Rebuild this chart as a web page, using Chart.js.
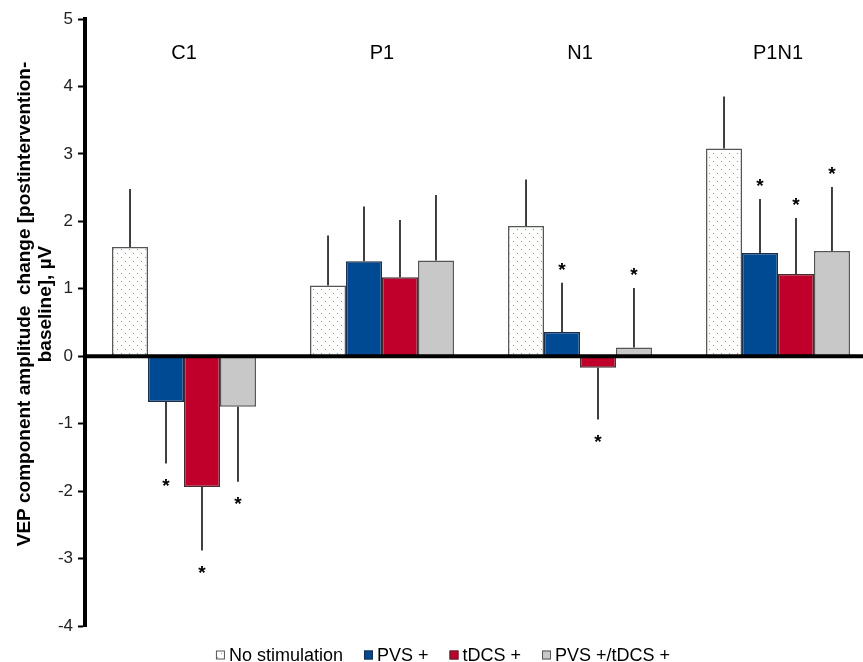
<!DOCTYPE html>
<html>
<head>
<meta charset="utf-8">
<script src="https://cdn.jsdelivr.net/npm/chart.js@4.4.1/dist/chart.umd.min.js"></script>
<style>
    html, body { margin: 0; padding: 0; background: #fff; overflow: hidden; }
    #wrap { width: 880px; height: 662px; position: relative; }
</style>
</head>
<body>
<div id="wrap"><canvas id="vepChart"></canvas></div>
<script>
const componentes = ['C1', 'P1', 'N1', 'P1N1'];
const nombresSeries = ['No stimulation', 'PVS +', 'tDCS +', 'PVS +/tDCS +'];

// amplitudes medias
const noStim = [1.62, 1.05, 1.93, 3.08];
const pvs = [-0.68, 1.41, 0.36, 1.53];
const tdcs = [-1.94, 1.17, -0.17, 1.22];
const pvsTdcs = [-0.75, 1.42, 0.13, 1.56];

// longitud de la barra de error (hacia afuera del cero)
const errNoStim = [0.86, 0.74, 0.69, 0.77];
const errPvs = [0.91, 0.81, 0.73, 0.80];
const errTdcs = [0.94, 0.85, 0.77, 0.83];
const errPvsTdcs = [1.11, 0.97, 0.88, 0.95];

// asterisco de significancia
const sigNoStim = [false, false, false, false];
const sigPvs = [true, false, true, true];
const sigTdcs = [true, false, true, true];
const sigPvsTdcs = [true, false, true, true];

const yTicks = [-4, -3, -2, -1, 0, 1, 2, 3, 4, 5];
const tituloY = ['VEP component amplitude  change [postintervention-', 'baseline], µV'];

const fuente = 'Arial, "Liberation Sans", sans-serif';

const crearPatron = () => {
    const c = document.createElement('canvas');
    c.width = 8;
    c.height = 8;
    const g = c.getContext('2d');
    g.fillStyle = '#ffffff';
    g.fillRect(0, 0, 8, 8);
    g.fillStyle = '#6f9bd3';
    g.fillRect(1, 1, 1, 1);
    g.fillRect(5, 5, 1, 1);
    return g.createPattern(c, 'repeat');
};

const errores = [errNoStim, errPvs, errTdcs, errPvsTdcs];
const significancia = [sigNoStim, sigPvs, sigTdcs, sigPvsTdcs];

const erroresPlugin = {
    id: 'errores',
    afterDatasetsDraw(chart) {
        const ctx = chart.ctx;
        const y = chart.scales.y;
        ctx.save();
        chart.data.datasets.forEach((ds, i) => {
            const meta = chart.getDatasetMeta(i);
            meta.data.forEach((bar, j) => {
                const v = ds.data[j];
                const fin = v >= 0 ? v + errores[i][j] : v - errores[i][j];
                const y0 = y.getPixelForValue(v);
                const y1 = y.getPixelForValue(fin);
                ctx.strokeStyle = '#000';
                ctx.lineWidth = 1.5;
                ctx.beginPath();
                ctx.moveTo(bar.x, y0);
                ctx.lineTo(bar.x, y1);
                ctx.stroke();
                if (significancia[i][j]) {
                    ctx.fillStyle = '#000';
                    ctx.font = 'bold 19px ' + fuente;
                    ctx.textAlign = 'center';
                    ctx.textBaseline = 'middle';
                    const ya = v >= 0 ? y1 - 12 : y1 + 23;
                    ctx.fillText('*', bar.x, ya);
                }
            });
        });
        // etiquetas de componente arriba
        const x = chart.scales.x;
        ctx.fillStyle = '#000';
        ctx.font = '20px ' + fuente;
        ctx.textAlign = 'center';
        ctx.textBaseline = 'middle';
        componentes.forEach((c, k) => {
            ctx.fillText(c, x.getPixelForValue(k), 53);
        });
        // linea del cero
        const yz = y.getPixelForValue(0);
        ctx.strokeStyle = '#000';
        ctx.lineWidth = 4;
        ctx.beginPath();
        ctx.moveTo(chart.chartArea.left - 2, yz);
        ctx.lineTo(chart.chartArea.right, yz);
        ctx.stroke();

        // titulo del eje y
        ctx.save();
        ctx.translate(25, 304);
        ctx.rotate(-Math.PI / 2);
        ctx.font = 'bold 19px ' + fuente;
        ctx.fillText(tituloY[0], 0, 0);
        ctx.fillText(tituloY[1], 0, 21);
        ctx.restore();

        // leyenda
        ctx.font = '18px ' + fuente;
        ctx.textAlign = 'left';
        const caja = 9, hueco = 4, sep = 21;
        let total = 0;
        nombresSeries.forEach((n, i) => {
            total += caja + hueco + ctx.measureText(n).width + (i < nombresSeries.length - 1 ? sep : 0);
        });
        let lx = 443 - total / 2;
        const ly = 655;
        chart.data.datasets.forEach((ds, i) => {
            ctx.fillStyle = ds.backgroundColor;
            ctx.fillRect(lx, ly - caja / 2, caja, caja);
            ctx.strokeStyle = ds.borderColor;
            ctx.lineWidth = 1;
            ctx.strokeRect(lx + 0.5, ly - caja / 2 + 0.5, caja - 1, caja - 1);
            lx += caja + hueco;
            ctx.fillStyle = '#000';
            ctx.fillText(nombresSeries[i], lx, ly + 1);
            lx += ctx.measureText(nombresSeries[i]).width + sep;
        });
        ctx.restore();
    }
};

const patron = crearPatron();

new Chart(document.getElementById('vepChart').getContext('2d'), {
    type: 'bar',
    data: {
        labels: componentes,
        datasets: [
            { label: nombresSeries[0], data: noStim, backgroundColor: patron, borderColor: '#555555', borderWidth: 1.5 },
            { label: nombresSeries[1], data: pvs, backgroundColor: '#004a94', borderColor: '#1a2e4a', borderWidth: 1.5 },
            { label: nombresSeries[2], data: tdcs, backgroundColor: '#c0002a', borderColor: '#4a2a30', borderWidth: 1.5 },
            { label: nombresSeries[3], data: pvsTdcs, backgroundColor: '#c8c8c8', borderColor: '#555555', borderWidth: 1.5 }
        ]
    },
    options: {
        responsive: true,
        maintainAspectRatio: false,
        animation: false,
        layout: { padding: { top: 19, right: 3, left: 0, bottom: 28 } },
        datasets: { bar: { categoryPercentage: 0.727, barPercentage: 1.0 } },
        plugins: {
            legend: { display: false },
            tooltip: { enabled: false }
        },
        scales: {
            x: {
                grid: { display: false },
                border: { display: false },
                ticks: { display: false }
            },
            y: {
                min: -4,
                max: 5,
                afterBuildTicks: (scale) => {
                    scale.ticks = yTicks.map(v => ({ value: v }));
                },
                afterFit: (scale) => {
                    scale.width = 85;
                },
                border: { display: true, color: '#000', width: 4 },
                grid: {
                    drawOnChartArea: false,
                    drawTicks: true,
                    tickLength: 7,
                    tickColor: '#000',
                    tickWidth: 2
                },
                ticks: {
                    color: '#222',
                    padding: 5,
                    font: { family: fuente, size: 17 }
                }
            }
        }
    },
    plugins: [erroresPlugin]
});
</script>
</body>
</html>
